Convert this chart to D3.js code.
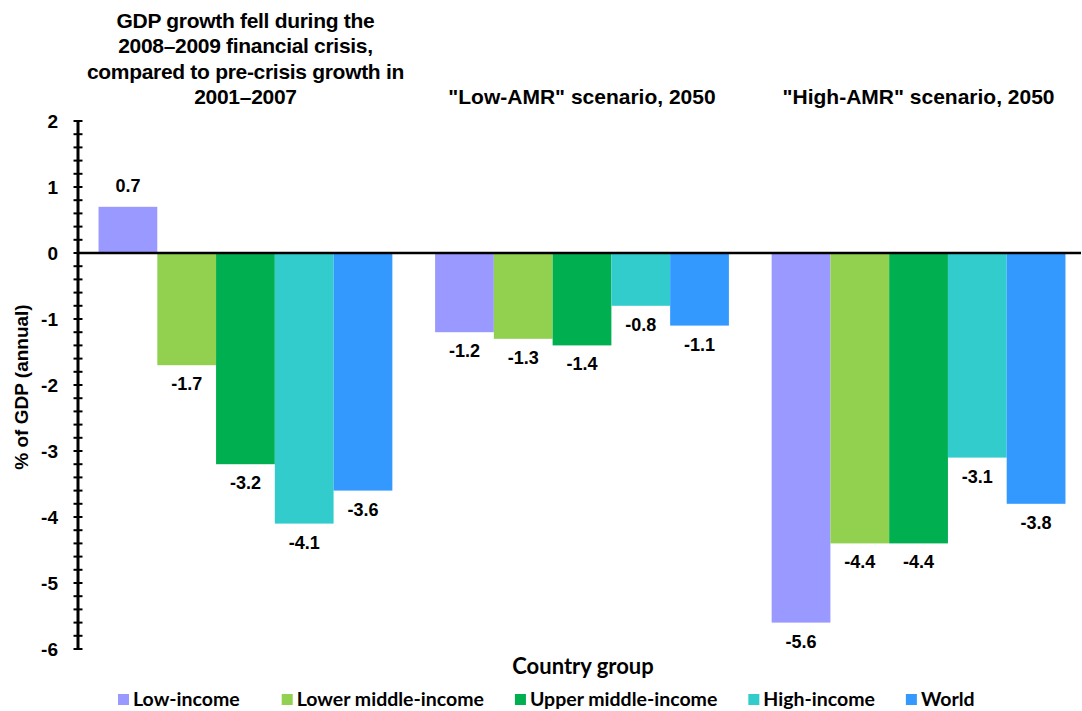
<!DOCTYPE html>
<html>
<head>
<meta charset="utf-8">
<script src="https://cdn.jsdelivr.net/npm/d3@7"></script>
<style>
  html, body { margin: 0; padding: 0; background: #fff; }
  svg { display: block; }
</style>
</head>
<body>
<svg id="chart" width="1082" height="711"></svg>
<script>
// ---- Data ----
const groups = ["crisis", "low", "high"];
const groupTitles = [
  ["GDP growth fell during the", "2008\u20132009 financial crisis,", "compared to pre-crisis growth in", "2001\u20132007"],
  ["\"Low-AMR\" scenario, 2050"],
  ["\"High-AMR\" scenario, 2050"]
];
const seriesNames = ["Low-income", "Lower middle-income", "Upper middle-income", "High-income", "World"];
const seriesColors = ["#9999FF", "#92D050", "#00B050", "#33CCCC", "#3399FF"];
const crisisValues = [0.7, -1.7, -3.2, -4.1, -3.6];
const lowAmrValues = [-1.2, -1.3, -1.4, -0.8, -1.1];
const highAmrValues = [-5.6, -4.4, -4.4, -3.1, -3.8];
const yTicks = [2, 1, 0, -1, -2, -3, -4, -5, -6];
const yTitle = "% of GDP (annual)";
const xTitle = "Country group";

const valuesByGroup = [crisisValues, lowAmrValues, highAmrValues];

const svg = d3.select("#chart");
const FONT = "'Liberation Sans', Arial, sans-serif";
const LEGFONT = "Lato, 'Open Sans', sans-serif";

const y = d3.scaleLinear().domain([-6, 2]).range([649, 121]);
const x0 = d3.scaleBand().domain(groups).range([77, 1087]).paddingInner(0.127).paddingOuter(0.064);
const x1 = d3.scaleBand().domain(seriesNames).range([0, x0.bandwidth()]);
const color = d3.scaleOrdinal().domain(seriesNames).range(seriesColors);

// Bars
const gGroups = svg.selectAll("g.grp").data(groups).enter().append("g")
  .attr("class", "grp")
  .attr("transform", d => `translate(${x0(d)},0)`);

gGroups.each(function(g, gi) {
  const sel = d3.select(this);
  const rows = seriesNames.map((s, i) => ({ s, v: valuesByGroup[gi][i] }));
  sel.selectAll("rect").data(rows).enter().append("rect")
    .attr("x", d => x1(d.s))
    .attr("width", x1.bandwidth())
    .attr("y", d => y(Math.max(0, d.v)))
    .attr("height", d => Math.abs(y(d.v) - y(0)))
    .attr("fill", d => color(d.s));
  sel.selectAll("text.lbl").data(rows).enter().append("text")
    .attr("class", "lbl")
    .attr("x", d => x1(d.s) + x1.bandwidth() / 2)
    .attr("y", d => d.v >= 0 ? y(d.v) - 15 : y(d.v) + 25)
    .attr("text-anchor", "middle")
    .attr("font-family", FONT)
    .attr("font-weight", "bold")
    .attr("font-size", 18)
    .attr("fill", "#000")
    .text(d => d.v.toFixed(1));
});

// Group titles
groups.forEach((g, gi) => {
  const lines = groupTitles[gi];
  const cx = x0(g) + x0.bandwidth() / 2;
  const lastBase = 104;
  const lh = 25.5;
  lines.forEach((ln, li) => {
    svg.append("text")
      .attr("x", cx)
      .attr("y", lastBase - (lines.length - 1 - li) * lh)
      .attr("text-anchor", "middle")
      .attr("font-family", FONT)
      .attr("font-weight", "bold")
      .attr("font-size", 21)
      .attr("letter-spacing", gi === 0 ? -0.3 : 0)
      .attr("fill", "#000")
      .text(ln);
  });
});

// Zero line
svg.append("line")
  .attr("x1", 78).attr("x2", 1081)
  .attr("y1", y(0)).attr("y2", y(0))
  .attr("stroke", "#000").attr("stroke-width", 2.5);

// Y axis
const axisX = 78;
svg.append("line")
  .attr("x1", axisX).attr("x2", axisX)
  .attr("y1", y(2)).attr("y2", y(-6))
  .attr("stroke", "#000").attr("stroke-width", 3);
const minor = d3.range(-30, 11).map(k => k / 5);
svg.selectAll("line.mt").data(minor).enter().append("line")
  .attr("class", "mt")
  .attr("x1", axisX - 4.5).attr("x2", axisX + 4.5)
  .attr("y1", d => y(d)).attr("y2", d => y(d))
  .attr("stroke", "#000").attr("stroke-width", 2);
svg.selectAll("text.yt").data(yTicks).enter().append("text")
  .attr("class", "yt")
  .attr("x", 58)
  .attr("y", d => y(d) + 6.5)
  .attr("text-anchor", "end")
  .attr("font-family", FONT)
  .attr("font-weight", "bold")
  .attr("font-size", 19)
  .attr("fill", "#000")
  .text(d => d);

// Y title
svg.append("text")
  .attr("transform", `translate(28,${387}) rotate(-90)`)
  .attr("text-anchor", "middle")
  .attr("font-family", FONT)
  .attr("font-weight", "bold")
  .attr("font-size", 19)
  .attr("fill", "#000")
  .text(yTitle);

// X title
svg.append("text")
  .attr("x", 583).attr("y", 674)
  .attr("text-anchor", "middle")
  .attr("font-family", LEGFONT)
  .attr("font-weight", "bold")
  .attr("font-size", 22)
  .attr("fill", "#000")
  .text(xTitle);

// Legend
const legend = svg.append("g");
let lx = 118;
seriesNames.forEach((s, i) => {
  legend.append("rect")
    .attr("x", lx).attr("y", 694)
    .attr("width", 11).attr("height", 11)
    .attr("fill", color(s));
  const t = legend.append("text")
    .attr("x", lx + 15).attr("y", 706)
    .attr("font-family", LEGFONT)
    .attr("font-weight", "bold")
    .attr("font-size", 19.5)
    .attr("fill", "#000")
    .text(s);
  const w = t.node().getComputedTextLength();
  lx = lx + 15 + w + (i === 0 ? 42 : 31);
});
</script>
</body>
</html>
